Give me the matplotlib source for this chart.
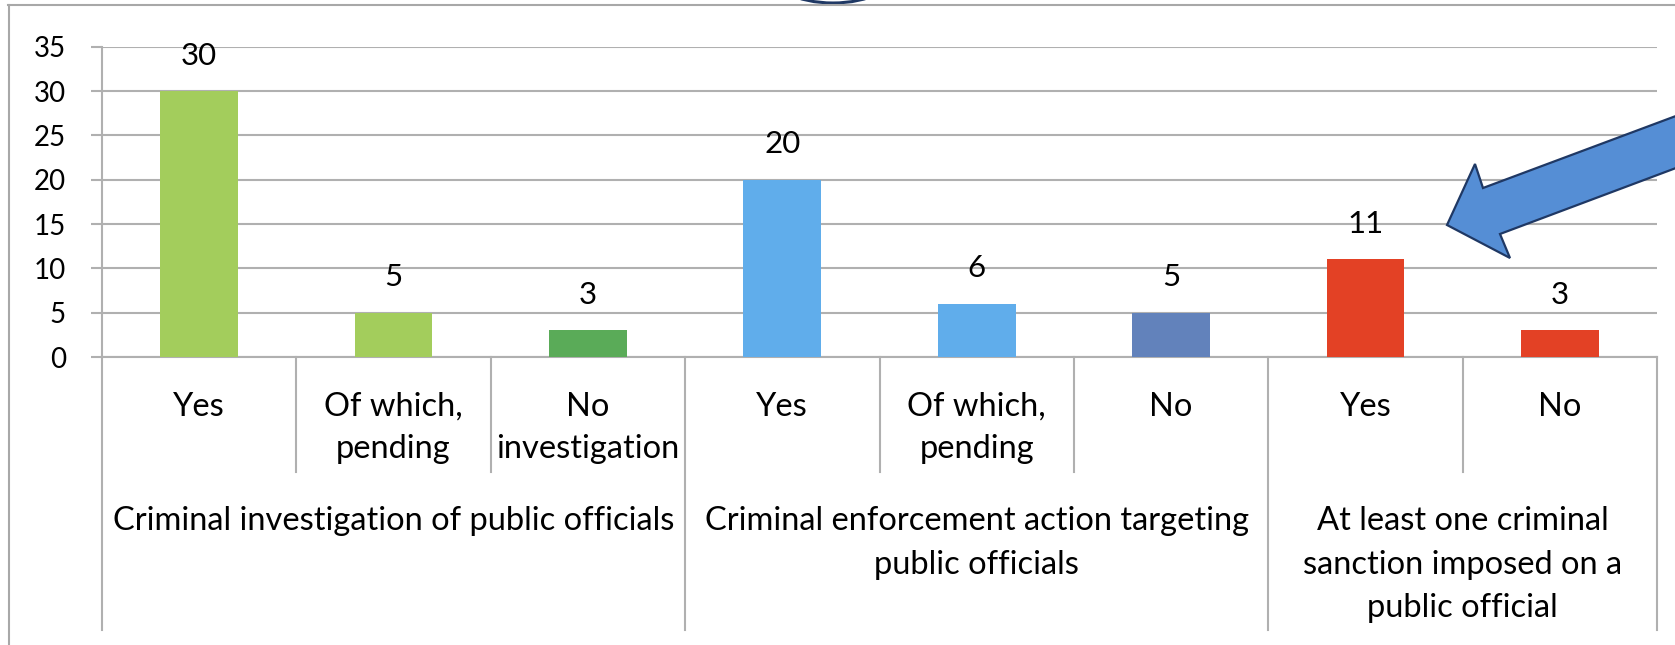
import matplotlib
matplotlib.use("Agg")
import matplotlib.pyplot as plt
from matplotlib.patches import Polygon, Ellipse
from matplotlib.lines import Line2D

plt.rcParams['font.family'] = ['Lato', 'DejaVu Sans']

# ---- data ----
sub_labels = ["Yes", "Of which,\npending", "No\ninvestigation",
              "Yes", "Of which,\npending", "No",
              "Yes", "No"]
values = [30, 5, 3, 20, 6, 5, 11, 3]
group_labels = ["Criminal investigation of public officials",
                "Criminal enforcement action targeting\npublic officials",
                "At least one criminal\nsanction imposed on a\npublic official"]
group_sizes = [3, 3, 2]
bar_colors = ["#A3CD5C", "#A3CD5C", "#5AAB58",
              "#60ADEB", "#60ADEB", "#6282BB",
              "#E34125", "#E34125"]
y_ticks = [0, 5, 10, 15, 20, 25, 30, 35]

W, H = 1675, 645
fig = plt.figure(figsize=(W / 100, H / 100), dpi=100)

# axes placement in pixels (image coords, y from top)
ax_l, ax_r, ax_t, ax_b = 102, 1657, 46.7, 357
ax = fig.add_axes([ax_l / W, 1 - ax_b / H, (ax_r - ax_l) / W, (ax_b - ax_t) / H])

grid_c = "#B0B0B0"
cat_fs = 23.5
x = list(range(len(values)))
bars = ax.bar(x, values, width=0.4, color=bar_colors, zorder=3)
ax.set_xlim(-0.5, len(values) - 0.5)
ax.set_ylim(0, 35)
ax.set_yticks(y_ticks)
ax.set_yticklabels([str(v) for v in y_ticks], fontsize=20)
ax.yaxis.grid(True, color=grid_c, lw=1.5, zorder=0)
ax.set_axisbelow(True)
ax.tick_params(axis='y', length=8, width=1.5, color=grid_c, pad=18)
ax.set_xticks([])
for s in ['top', 'right']:
    ax.spines[s].set_visible(False)
for s in ['left', 'bottom']:
    ax.spines[s].set_color(grid_c)
    ax.spines[s].set_linewidth(1.5)

# value labels
for b, v in zip(bars, values):
    ax.annotate(str(v), (b.get_x() + b.get_width() / 2, v),
                xytext=(0, 19), textcoords='offset points',
                ha='center', va='baseline', fontsize=22.5, color='black')

# multi-level category axis
axh = ax_b - ax_t
def fy(py):
    return (ax_b - py) / axh

tr = ax.get_xaxis_transform()
for i, lab in enumerate(sub_labels):
    for j, line in enumerate(lab.split("\n")):
        ax.text(i, fy(416 + 42 * j), line, transform=tr, ha='center',
                va='baseline', fontsize=cat_fs, clip_on=False)

start = 0
bounds = [-0.5]
for g, n in zip(group_labels, group_sizes):
    center = start + (n - 1) / 2
    for j, line in enumerate(g.split("\n")):
        ax.text(center, fy(530 + 43.5 * j), line, transform=tr, ha='center',
                va='baseline', fontsize=cat_fs, clip_on=False)
    for k in range(1, n):
        xb = start + k - 0.5
        ax.add_line(Line2D([xb, xb], [0, fy(471.7)], transform=tr, color=grid_c,
                           lw=1.5, clip_on=False))
    start += n
    bounds.append(start - 0.5)
for xb in bounds:
    ax.add_line(Line2D([xb, xb], [0, fy(630)], transform=tr, color=grid_c,
                       lw=1.5, clip_on=False))

# outer frame (top and left edges)
def fp(px, py):
    return (px / W, 1 - py / H)

fig.add_artist(Line2D([8 / W, 1], [1 - 5 / H, 1 - 5 / H], color="#A8A8A8", lw=1.5))
fig.add_artist(Line2D([9 / W, 9 / W], [0, 1 - 5 / H], color="#A8A8A8", lw=1.5))

# partial circle at top
ell = Ellipse(fp(833, -30), 130 / W, 66 / H, fill=False, edgecolor="#1F3864",
              lw=2.2, transform=fig.transFigure)
fig.add_artist(ell)

# block arrow
pts = [(1447, 225), (1475, 164), (1483, 188), (1700, 107),
       (1700, 159), (1500, 234), (1510, 258)]
arrow = Polygon([fp(px, py) for px, py in pts], closed=True,
                facecolor="#558ED5", edgecolor="#1F3864", lw=1.6,
                transform=fig.transFigure)
fig.add_artist(arrow)

fig.savefig("out.png", dpi=100)
